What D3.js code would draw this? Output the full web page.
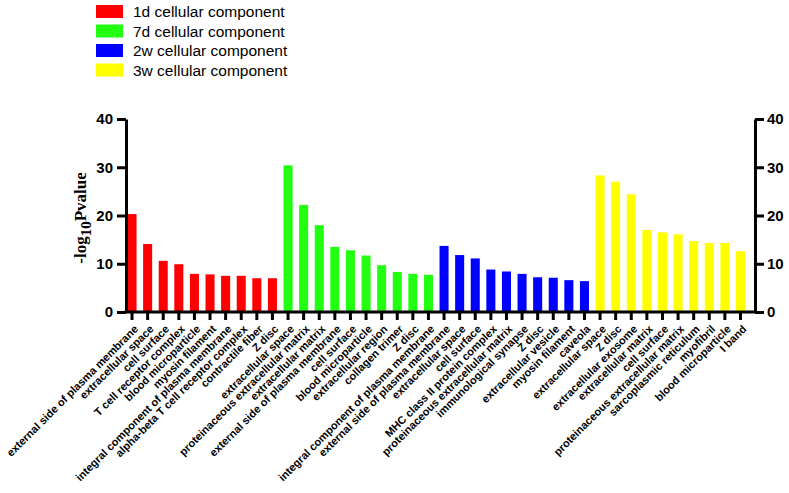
<!DOCTYPE html>
<html><head><meta charset="utf-8">
<script src="https://cdn.jsdelivr.net/npm/d3@7"></script>
<style>body{margin:0;background:#fff}</style>
</head><body>
<svg id="c" width="789" height="493"></svg>
<script>
const groups = ["1d cellular component","7d cellular component","2w cellular component","3w cellular component"];
const groupColors = ["#ff0000","#22ff11","#0000ff","#ffff00"];
const labels1d = ["external side of plasma membrane","extracellular space","cell surface","T cell receptor complex","blood microparticle","myosin filament","integral component of plasma membrane","alpha-beta T cell receptor complex","contractile fiber","Z disc"];
const values1d = [20.3,14.1,10.6,9.9,7.9,7.8,7.5,7.5,7.0,7.0];
const labels7d = ["extracellular space","proteinaceous extracellular matrix","extracellular matrix","external side of plasma membrane","cell surface","blood microparticle","extracellular region","collagen trimer","Z disc","integral component of plasma membrane"];
const values7d = [30.4,22.2,18.0,13.5,12.8,11.7,9.7,8.3,7.9,7.7];
const labels2w = ["external side of plasma membrane","extracellular space","cell surface","MHC class II protein complex","proteinaceous extracellular matrix","immunological synapse","Z disc","extracellular vesicle","myosin filament","caveola"];
const values2w = [13.7,11.8,11.1,8.8,8.4,7.9,7.2,7.1,6.6,6.4];
const labels3w = ["extracellular space","Z disc","extracellular exosome","extracellular matrix","cell surface","proteinaceous extracellular matrix","sarcoplasmic reticulum","myofibril","blood microparticle","I band"];
const values3w = [28.3,27.0,24.4,17.0,16.5,16.1,14.7,14.3,14.3,12.6];
const yTicks = [0,10,20,30,40];

const allLabels = [labels1d,labels7d,labels2w,labels3w];
const allValues = [values1d,values7d,values2w,values3w];
const data = [];
allLabels.forEach((ls,g)=>ls.forEach((l,i)=>data.push({id:g+"_"+i,label:l,value:allValues[g][i],g})));

const svg = d3.select("#c");
const axL = 126, axR = 755, y0 = 312, yTop = 119;
const x = d3.scaleBand().domain(data.map(d=>d.id)).range([127.5,745]).paddingInner(0.42).paddingOuter(0);
const y = d3.scaleLinear().domain([0,40]).range([y0,yTop]);

svg.append("g").selectAll("rect").data(data).join("rect")
  .attr("x",d=>x(d.id)).attr("width",x.bandwidth())
  .attr("y",d=>y(d.value)).attr("height",d=>y(0)-y(d.value))
  .attr("fill",d=>groupColors[d.g]);

function styleAxis(g){
  g.selectAll("path").attr("stroke","#000").attr("stroke-width",3);
  g.selectAll(".tick line").attr("stroke","#000").attr("stroke-width",3);
  g.selectAll("text").attr("font-family","Liberation Sans, Arial, sans-serif").attr("font-weight","bold").attr("font-size","15px").attr("fill","#000");
}
const la = svg.append("g").attr("transform",`translate(${axL},0)`)
  .call(d3.axisLeft(y).tickValues(yTicks).tickSize(9).tickSizeOuter(0).tickPadding(4));
styleAxis(la);
const ra = svg.append("g").attr("transform",`translate(${axR},0)`)
  .call(d3.axisRight(y).tickValues(yTicks).tickSize(9).tickSizeOuter(0).tickPadding(3));
styleAxis(ra);

// bottom axis
const bx = svg.append("g").attr("transform",`translate(0,${y0})`)
  .call(d3.axisBottom(x).tickSize(8).tickSizeOuter(0).tickFormat(""));
bx.select("path").attr("d",`M${axL-1.5},0H${axR+1.5}`).attr("stroke","#000").attr("stroke-width",3);
bx.selectAll(".tick line").attr("stroke","#000").attr("stroke-width",3);

// x labels
const lab = svg.append("g");
data.forEach(d=>{
  const cx = x(d.id)+x.bandwidth()/2;
  lab.append("text")
    .attr("transform",`translate(${cx+4},${y0+15}) rotate(-45)`)
    .attr("text-anchor","end")
    .attr("dy","0.35em")
    .attr("font-family","Liberation Sans, Arial, sans-serif")
    .attr("font-weight","bold").attr("font-size","11px").attr("fill","#000")
    .text(d.label);
});

// y title
const t = svg.append("text")
  .attr("transform","translate(86,218) rotate(-90)")
  .attr("text-anchor","middle")
  .attr("font-family","Liberation Serif, Times New Roman, serif")
  .attr("font-weight","bold").attr("font-size","17px").attr("fill","#000");
t.append("tspan").text("-log");
t.append("tspan").attr("dy","5").attr("font-size","15px").text("10");
t.append("tspan").attr("dy","-5").text("Pvalue");

// legend
const lg = svg.append("g");
groups.forEach((gname,i)=>{
  lg.append("rect").attr("x",96).attr("y",5+i*19.5).attr("width",27).attr("height",13).attr("fill",groupColors[i]);
  lg.append("text").attr("x",133).attr("y",17+i*19.5)
    .attr("font-family","Liberation Sans, Arial, sans-serif").attr("font-size","15.5px").attr("fill","#000")
    .text(gname);
});
</script>
</body></html>
